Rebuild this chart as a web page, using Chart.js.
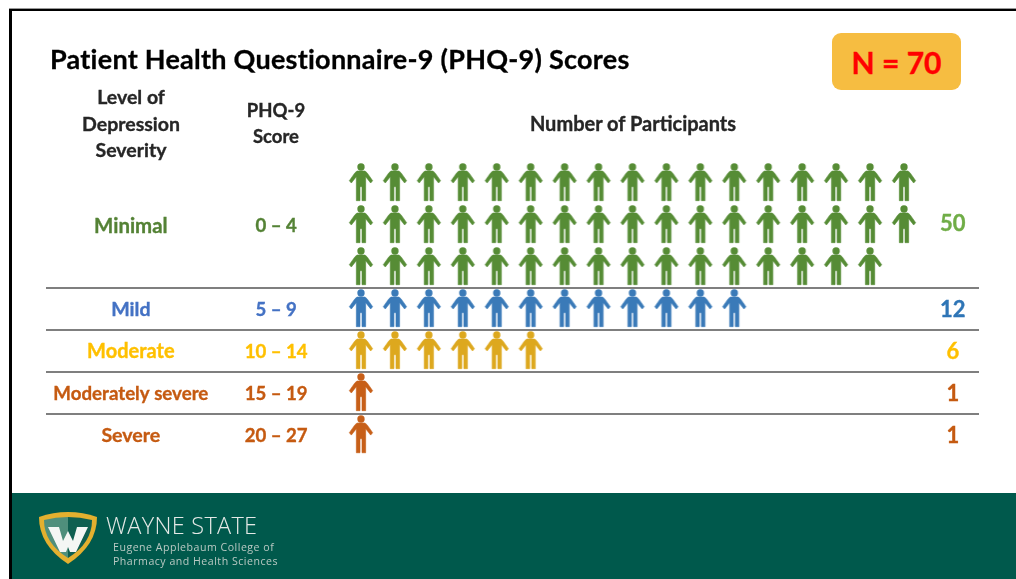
<!DOCTYPE html>
<html>
<head>
<meta charset="utf-8">
<title>PHQ-9 Scores</title>
<script src="https://cdn.jsdelivr.net/npm/chart.js@4"></script>
<style>
  html, body { margin: 0; padding: 0; background: #fff; }
  #page { position: relative; width: 1016px; height: 579px; overflow: hidden; font-family: Lato, sans-serif; font-weight: 700; color: #000; }
  #page div { position: absolute; white-space: nowrap; }
  #chartCanvas { position: absolute; left: 0; top: 0; filter: blur(0.4px); }
  .head { color: #262626; font-size: 19.5px; text-align: center; line-height: 26.5px; transform: translateX(-50%); -webkit-text-stroke: 0.35px #262626; filter: blur(0.3px); }
</style>
</head>
<body>
<div id="page">
  <div style="left:9px;top:8px;width:1007px;height:1px;background:#999"></div>
  <div style="left:9px;top:9px;width:1007px;height:2px;background:#000"></div>
  <div style="left:9px;top:9px;width:3px;height:570px;background:#000"></div>
  <div style="left:12px;top:493px;width:1004px;height:86px;background:#00594c"></div>

  <canvas id="chartCanvas" width="1016" height="579"></canvas>

  <div style="left:50px;top:43px;font-size:27px;line-height:32px;letter-spacing:0.25px;-webkit-text-stroke:0.3px #000">Patient Health Questionnaire-9 (PHQ-9) Scores</div>
  <div style="left:832px;top:33px;width:129px;height:57px;border-radius:9px;background:#f6bd41;color:#f00;font-size:30px;line-height:58px;text-align:center;-webkit-text-stroke:0.4px #f00">N = 70</div>
  <div class="head" style="left:131px;top:84px">Level of<br>Depression<br>Severity</div>
  <div class="head" style="left:276px;top:97px;font-size:18.5px;line-height:26px">PHQ-9<br>Score</div>
  <div class="head" style="left:633px;top:110px;font-size:20px">Number of Participants</div>

  <svg style="position:absolute;left:38px;top:511px;filter:blur(0.5px)" width="60" height="54" viewBox="0 0 60 54">
    <path d="M1 6 Q15 1 30 1 Q45 1 59 6 Q59 34 30 53 Q1 34 1 6 Z" fill="#e3b02f"/>
    <path d="M6 9 Q18 6 30 6 L30 47 Q6 32 6 9 Z" fill="#4f8f7c"/>
    <path d="M54 9 Q42 6 30 6 L30 47 Q54 32 54 9 Z" fill="#0f5f50"/>
    <path d="M10 16 L21 16 L25 30 L30 20 L35 30 L39 16 L50 16 L38 41 L32 41 L30 36 L28 41 L22 41 Z" fill="#f4f6f4"/>
  </svg>
  <div style="left:106px;top:509px;font-family:'Open Sans',sans-serif;font-weight:300;font-size:23.5px;line-height:32px;letter-spacing:0.3px;color:#e4e9e6;filter:blur(0.3px)">WAYNE STATE</div>
  <div style="left:113px;top:540px;font-family:'Open Sans',sans-serif;font-weight:400;font-size:10.6px;line-height:14px;letter-spacing:0.5px;color:#b9c9c3;filter:blur(0.5px)">Eugene Applebaum College of<br>Pharmacy and Health Sciences</div>
</div>

<script>
const severities = ["Minimal", "Mild", "Moderate", "Moderately severe", "Severe"];
const scoreRanges = ["0 – 4", "5 – 9", "10 – 14", "15 – 19", "20 – 27"];
const participants = [50, 12, 6, 1, 1];
const firstRows = [0, 3, 4, 5, 6];
const labelRows = [1, 3, 4, 5, 6];
const perRow = 17;
const separators = [2.524, 3.524, 4.524, 5.524];

const iconColors = ["#568c35", "#3a7ab8", "#dda81e", "#c75f18", "#c75f18"];
const labelColors = ["#548235", "#4472c4", "#ffc000", "#c55a11", "#c55a11"];
const countColors = ["#70ad47", "#2e75b6", "#ffc000", "#c55a11", "#c55a11"];
const labelSizes = [20.4, 19.6, 20, 18.7, 19.6];

// person icon used as the point style
function makePerson(color) {
  const c = document.createElement("canvas");
  c.width = 30;
  c.height = 42;
  const g = c.getContext("2d");
  const s = 1 / 3;
  g.translate(15, 2.35);
  g.fillStyle = color;
  g.strokeStyle = color;
  g.lineWidth = 0.6;
  g.lineJoin = "round";
  g.beginPath();
  g.arc(0, 11 * s, 11 * s, 0, Math.PI * 2);
  g.fill();
  const body = [[-12,23],[12,23],[18,28],[35,52],[29,59],[14,40],[14,112],[3,112],[3,70],[-3,70],[-3,112],[-14,112],[-14,40],[-29,59],[-35,52],[-18,28]];
  g.beginPath();
  body.forEach((p, i) => (i ? g.lineTo(p[0] * s, p[1] * s) : g.moveTo(p[0] * s, p[1] * s)));
  g.closePath();
  g.fill();
  g.stroke();
  return c;
}

function personPoints(count, firstRow) {
  const pts = [];
  for (let i = 0; i < count; i++) {
    pts.push({ x: i % perRow, y: firstRow + Math.floor(i / perRow) });
  }
  return pts;
}

// row labels, score ranges and counts
const tableText = {
  id: "tableText",
  afterDraw(chart) {
    const ctx = chart.ctx;
    const xs = chart.scales.x;
    const ys = chart.scales.y;
    ctx.save();
    ctx.textAlign = "center";
    ctx.textBaseline = "middle";
    ctx.lineWidth = 0.35;
    severities.forEach((name, i) => {
      const y = ys.getPixelForValue(labelRows[i]) + 2;
      ctx.fillStyle = labelColors[i];
      ctx.strokeStyle = labelColors[i];
      ctx.font = "700 " + labelSizes[i] + "px Lato, sans-serif";
      ctx.fillText(name, xs.getPixelForValue(-6.78), y);
      ctx.strokeText(name, xs.getPixelForValue(-6.78), y);
      ctx.font = "700 18.6px Lato, sans-serif";
      ctx.fillText(scoreRanges[i], xs.getPixelForValue(-2.5), y);
      ctx.strokeText(scoreRanges[i], xs.getPixelForValue(-2.5), y);
      const count = String(participants[i]);
      ctx.font = "700 22px Lato, sans-serif";
      ctx.fillStyle = countColors[i];
      ctx.strokeStyle = countColors[i];
      ctx.fillText(count, xs.getPixelForValue(17.44), i === 0 ? y - 2 : y);
      ctx.strokeText(count, xs.getPixelForValue(17.44), i === 0 ? y - 2 : y);
    });
    ctx.restore();
  }
};

new Chart(document.getElementById("chartCanvas"), {
  type: "scatter",
  data: {
    datasets: severities.map((name, i) => ({
      label: name,
      data: personPoints(participants[i], firstRows[i]),
      pointStyle: makePerson(iconColors[i]),
      pointRadius: 18,
      clip: false
    }))
  },
  options: {
    responsive: false,
    animation: false,
    devicePixelRatio: 1,
    layout: { autoPadding: false, padding: { left: 46, right: 37, top: 90, bottom: 119 } },
    plugins: { legend: { display: false }, tooltip: { enabled: false } },
    scales: {
      x: { display: false, min: -9.28, max: 18.21 },
      y: {
        reverse: true,
        min: -2.19,
        max: 6.619,
        afterBuildTicks(axis) {
          axis.ticks = separators.map((v) => ({ value: v }));
        },
        ticks: { display: false },
        border: { display: false },
        grid: { color: "#7f7f7f", lineWidth: 2, drawTicks: false }
      }
    }
  },
  plugins: [tableText]
});
</script>
</body>
</html>
